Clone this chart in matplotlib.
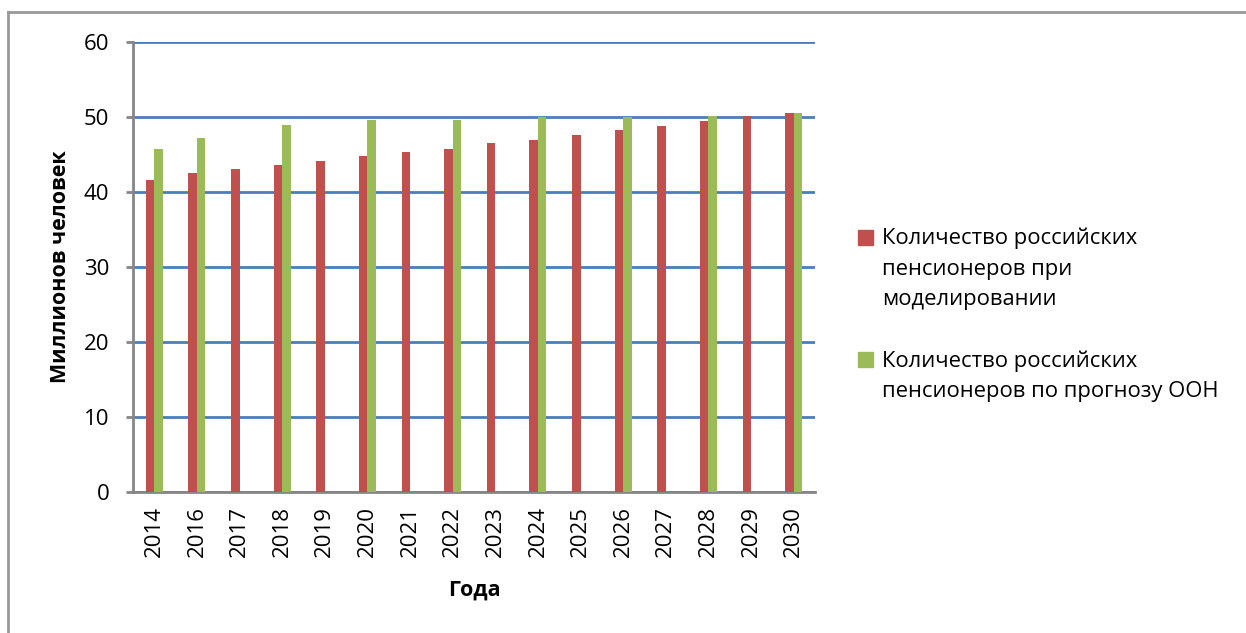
import numpy as np
import matplotlib.pyplot as plt
from matplotlib.lines import Line2D
from matplotlib.patches import Rectangle

plt.rcParams['font.family'] = ['Open Sans', 'DejaVu Sans']

# ======================
# данные
# ======================
years = ['2014', '2016', '2017', '2018', '2019', '2020', '2021', '2022',
         '2023', '2024', '2025', '2026', '2027', '2028', '2029', '2030']
model = [41.6, 42.6, 43.1, 43.6, 44.1, 44.8, 45.3, 45.8,
         46.5, 47.0, 47.6, 48.3, 48.8, 49.5, 50.1, 50.6]
un_forecast = [45.8, 47.2, np.nan, 48.9, np.nan, 49.6, np.nan, 49.6,
               np.nan, 50.0, np.nan, 50.0, np.nan, 50.1, np.nan, 50.6]

label_model = 'Количество российских\nпенсионеров при\nмоделировании'
label_un = 'Количество российских\nпенсионеров по прогнозу ООН'

red = '#C0504D'
green = '#9BBB59'
grid_blue = '#4A7EBB'
axis_gray = '#868686'

W, H = 1246, 633

# ======================
# график
# ======================
fig = plt.figure(figsize=(W / 100, H / 100), dpi=100)
ax = fig.add_axes([133 / W, 1 - 492 / H, (815 - 133) / W, (492 - 42) / H])

x = np.arange(len(years))
w = 0.2
ax.bar(x - w / 2, model, w, color=red, zorder=3)
ax.bar(x + w / 2, un_forecast, w, color=green, zorder=3)

ax.set_xlim(-0.5, len(years) - 0.5)
ax.set_ylim(0, 60)
ax.set_yticks(range(0, 61, 10))
ax.yaxis.grid(True, color=grid_blue, linewidth=2, zorder=1)
ax.set_axisbelow(True)

ax.set_xticks(x)
ax.set_xticklabels(years, rotation=90, fontsize=16)
ax.tick_params(axis='x', length=0, pad=10)
ax.tick_params(axis='y', labelsize=16, length=5, width=2, color=axis_gray, pad=12)

for s in ['top', 'right']:
    ax.spines[s].set_visible(False)
for s in ['left', 'bottom']:
    ax.spines[s].set_color(axis_gray)
    ax.spines[s].set_linewidth(2)

ax.set_ylabel('Миллионов человек', fontsize=15.5, fontweight='bold', labelpad=9)
ax.set_xlabel('Года', fontsize=15.5, fontweight='bold', labelpad=16)

# легенда
for col, lab, ytop in [(red, label_model, 230), (green, label_un, 352)]:
    fig.patches.append(Rectangle((858 / W, 1 - (ytop + 15) / H), 15 / W, 15 / H,
                                 transform=fig.transFigure, color=col))
    fig.text(882 / W, 1 - (ytop - 2) / H, lab, fontsize=15.8, va='top', ha='left',
             linespacing=1.57)

# рамка
fig.add_artist(Line2D([8 / W, 8 / W], [0, 1 - 12 / H], color='#999999', linewidth=2))
fig.add_artist(Line2D([8 / W, 1], [1 - 12 / H, 1 - 12 / H], color='#999999', linewidth=2))

plt.savefig('out.png', dpi=100)
